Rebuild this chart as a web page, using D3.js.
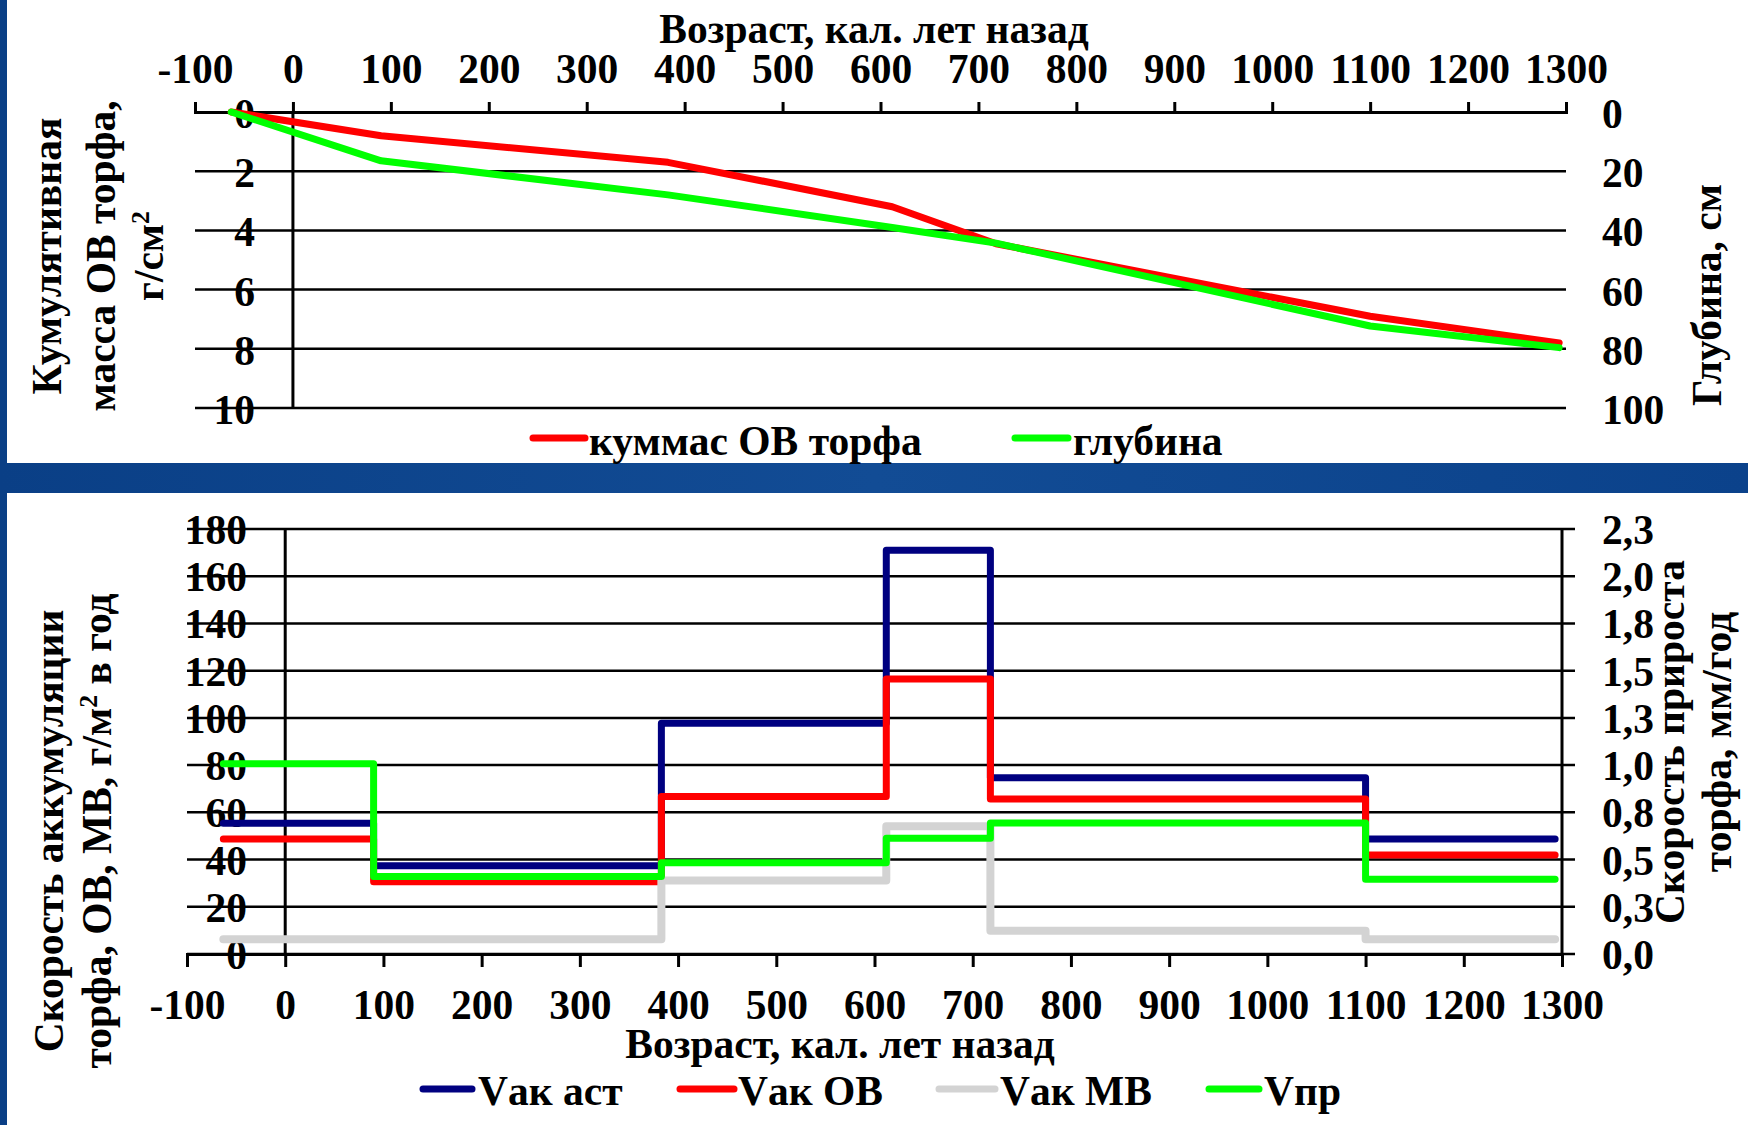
<!DOCTYPE html>
<html>
<head>
<meta charset="utf-8">
<script src="https://cdn.jsdelivr.net/npm/d3@7"></script>
<style>
  body { margin: 0; background: #0c4590; }
  svg text { font-family: "Liberation Serif", "Times New Roman", serif; font-weight: bold; fill: #000; }
</style>
</head>
<body>
<svg id="chart"></svg>
<script>
// ages of the dated layers, cal. years BP
let ages = [-63, 90, 383, 612, 718, 1100, 1293];

// top chart: cumulative organic mass (g/cm2) and depth (cm)
let cumMass = [0, 0.8, 1.7, 3.2, 4.45, 6.9, 7.8];
let depth = [0, 16.5, 28, 39, 44.3, 72.3, 79.6];

// bottom chart: rates per interval
let vakAst = [55.4, 37.4, 97.7, 171, 74.6, 48.7];
let vakOV = [48.7, 30.6, 66.7, 116.5, 65.7, 41.9];
let vakMV = [6.3, 6.3, 31.1, 54.1, 9.9, 6.3];
let vPr = [1.03, 0.42, 0.494, 0.627, 0.709, 0.405];

let ageTicks = [-100, 0, 100, 200, 300, 400, 500, 600, 700, 800, 900, 1000, 1100, 1200, 1300];
let massTicks = [0, 2, 4, 6, 8, 10];
let depthTicks = [0, 20, 40, 60, 80, 100];
let rateTicks = [0, 20, 40, 60, 80, 100, 120, 140, 160, 180];
let growTicks = [0, 0.2556, 0.5111, 0.7667, 1.0222, 1.2778, 1.5333, 1.7889, 2.0444, 2.3];

let width = 1748, height = 1125;
let fontSize = 41.5;
let svg = d3.select("#chart").attr("width", width).attr("height", height);

let commaFmt = function(d) { return d3.format(".1f")(d).replace(".", ","); };
let plainFmt = function(d) { return "" + d; };

let drawBackdrop = function() {
    let defs = svg.append("defs");
    let grad = defs.append("linearGradient").attr("id", "bg")
        .attr("x1", 0).attr("y1", 0).attr("x2", 1).attr("y2", 0);
    grad.append("stop").attr("offset", "0%").attr("stop-color", "#0a3f86");
    grad.append("stop").attr("offset", "50%").attr("stop-color", "#124c95");
    grad.append("stop").attr("offset", "100%").attr("stop-color", "#0b428b");
    svg.append("rect").attr("width", width).attr("height", height).attr("fill", "url(#bg)");
    svg.append("rect").attr("x", 7).attr("y", 0).attr("width", width - 7).attr("height", 463).attr("fill", "#fff");
    svg.append("rect").attr("x", 7).attr("y", 493).attr("width", width - 7).attr("height", height - 493).attr("fill", "#fff");
};

let rotatedTitle = function(g, lines, cy) {
    lines.forEach(function(l) {
        let t = g.append("text")
            .attr("transform", "translate(" + l.x + "," + cy + ") rotate(-90)")
            .attr("text-anchor", "middle")
            .attr("font-size", fontSize);
        l.parts.forEach(function(p) {
            let s = t.append("tspan").text(p.t);
            if (p.sup) s.attr("baseline-shift", "super").attr("font-size", fontSize * 0.62);
        });
    });
};

let legend = function(g, items, lineY, textY) {
    items.forEach(function(it) {
        g.append("line").attr("x1", it.x1).attr("x2", it.x2).attr("y1", lineY).attr("y2", lineY)
            .attr("stroke", it.color).attr("stroke-width", 7).attr("stroke-linecap", "round");
        g.append("text").attr("x", it.tx).attr("y", textY).attr("font-size", fontSize).text(it.label);
    });
};

let drawTop = function() {
    let g = svg.append("g");
    let x = d3.scaleLinear().domain([-100, 1300]).range([195, 1566]);
    let yM = d3.scaleLinear().domain([0, 10]).range([112, 408]);
    let yD = d3.scaleLinear().domain([0, 100]).range([112, 408]);

    g.selectAll("line.grid").data(massTicks.slice(1)).enter().append("line")
        .attr("x1", x(-100)).attr("x2", x(1300))
        .attr("y1", function(d) { return yM(d); }).attr("y2", function(d) { return yM(d); })
        .attr("stroke", "#000").attr("stroke-width", 2.5);

    let ax = g.append("g").attr("transform", "translate(0,112)")
        .call(d3.axisTop(x).tickValues(ageTicks).tickFormat(plainFmt)
            .tickSize(10).tickSizeOuter(10).tickPadding(19));
    ax.selectAll("path, line").attr("stroke", "#000").attr("stroke-width", 3);
    ax.selectAll("text").attr("font-size", fontSize).attr("font-family", null);

    g.append("line").attr("x1", x(0)).attr("x2", x(0)).attr("y1", 112).attr("y2", 408)
        .attr("stroke", "#000").attr("stroke-width", 3);

    g.selectAll("text.ml").data(massTicks).enter().append("text")
        .attr("x", 255).attr("y", function(d) { return yM(d) + 16; })
        .attr("text-anchor", "end").attr("font-size", fontSize).text(function(d) { return d; });
    g.selectAll("text.mr").data(depthTicks).enter().append("text")
        .attr("x", 1602).attr("y", function(d) { return yD(d) + 16; })
        .attr("font-size", fontSize).text(function(d) { return d; });

    let line = d3.line().x(function(d) { return x(d[0]); });
    g.append("path").datum(d3.zip(ages, cumMass))
        .attr("d", line.y(function(d) { return yM(d[1]); }))
        .attr("fill", "none").attr("stroke", "#ff0000").attr("stroke-width", 7)
        .attr("stroke-linejoin", "round").attr("stroke-linecap", "round");
    g.append("path").datum(d3.zip(ages, depth))
        .attr("d", line.y(function(d) { return yD(d[1]); }))
        .attr("fill", "none").attr("stroke", "#00ff00").attr("stroke-width", 7)
        .attr("stroke-linejoin", "round").attr("stroke-linecap", "round");

    g.append("text").attr("x", 874).attr("y", 43).attr("text-anchor", "middle")
        .attr("font-size", fontSize).text("Возраст, кал. лет назад");

    rotatedTitle(g, [
        { x: 61, parts: [{ t: "Кумулятивная" }] },
        { x: 115, parts: [{ t: "масса ОВ торфа," }] },
        { x: 163, parts: [{ t: "г/см" }, { t: "2", sup: true }] }
    ], 256);
    rotatedTitle(g, [{ x: 1721, parts: [{ t: "Глубина, см" }] }], 295);

    legend(g, [
        { x1: 533, x2: 585, tx: 589, color: "#ff0000", label: "куммас ОВ торфа" },
        { x1: 1015, x2: 1068, tx: 1073, color: "#00ff00", label: "глубина" }
    ], 438, 455);
};

let drawBottom = function() {
    let g = svg.append("g");
    let x = d3.scaleLinear().domain([-100, 1300]).range([187, 1562]);
    let yR = d3.scaleLinear().domain([0, 180]).range([954, 529]);
    let yG = d3.scaleLinear().domain([0, 2.3]).range([954, 529]);

    g.selectAll("line.grid").data(rateTicks).enter().append("line")
        .attr("x1", x(-100)).attr("x2", 1575)
        .attr("y1", function(d) { return yR(d); }).attr("y2", function(d) { return yR(d); })
        .attr("stroke", "#000").attr("stroke-width", 2.5);

    let ax = g.append("g").attr("transform", "translate(0,954)")
        .call(d3.axisBottom(x).tickValues(ageTicks).tickFormat(plainFmt)
            .tickSize(13).tickSizeOuter(13).tickPadding(23));
    ax.selectAll("path, line").attr("stroke", "#000").attr("stroke-width", 3);
    ax.selectAll("text").attr("font-size", fontSize).attr("font-family", null);

    g.append("line").attr("x1", x(0)).attr("x2", x(0)).attr("y1", 529).attr("y2", 954)
        .attr("stroke", "#000").attr("stroke-width", 3);
    g.append("line").attr("x1", x(1300)).attr("x2", x(1300)).attr("y1", 529).attr("y2", 954)
        .attr("stroke", "#000").attr("stroke-width", 3);

    g.selectAll("text.rl").data(rateTicks).enter().append("text")
        .attr("x", 247).attr("y", function(d) { return yR(d) + 15; })
        .attr("text-anchor", "end").attr("font-size", fontSize).text(function(d) { return d; });
    g.selectAll("text.rr").data(growTicks).enter().append("text")
        .attr("x", 1602).attr("y", function(d) { return yG(d) + 15; })
        .attr("font-size", fontSize).text(commaFmt);

    let step = function(vals, y) {
        let pts = ages.map(function(a, i) { return [a, vals[Math.min(i, vals.length - 1)]]; });
        return d3.line().curve(d3.curveStepAfter)
            .x(function(d) { return x(d[0]); }).y(function(d) { return y(d[1]); })(pts);
    };
    let series = [
        { v: vakAst, y: yR, color: "#000080", w: 7 },
        { v: vakOV, y: yR, color: "#ff0000", w: 7 },
        { v: vakMV, y: yR, color: "#d3d3d3", w: 8 },
        { v: vPr, y: yG, color: "#00ff00", w: 7 }
    ];
    series.forEach(function(s) {
        g.append("path").attr("d", step(s.v, s.y))
            .attr("fill", "none").attr("stroke", s.color).attr("stroke-width", s.w)
            .attr("stroke-linejoin", "round").attr("stroke-linecap", "round");
    });

    g.append("text").attr("x", 840).attr("y", 1058).attr("text-anchor", "middle")
        .attr("font-size", fontSize).text("Возраст, кал. лет назад");

    rotatedTitle(g, [
        { x: 63, parts: [{ t: "Скорость аккумуляции" }] },
        { x: 111, parts: [{ t: "торфа, ОВ, МВ, г/м" }, { t: "2", sup: true }, { t: " в год" }] }
    ], 831);
    rotatedTitle(g, [
        { x: 1684, parts: [{ t: "Скорость прироста" }] },
        { x: 1731, parts: [{ t: "торфа, мм/год" }] }
    ], 742);

    legend(g, [
        { x1: 423, x2: 472, tx: 478, color: "#000080", label: "Vак аст" },
        { x1: 680, x2: 734, tx: 738, color: "#ff0000", label: "Vак ОВ" },
        { x1: 939, x2: 995, tx: 1000, color: "#d3d3d3", label: "Vак МВ" },
        { x1: 1209, x2: 1259, tx: 1264, color: "#00ff00", label: "Vпр" }
    ], 1089, 1105);
};

drawBackdrop();
drawTop();
drawBottom();
</script>
</body>
</html>
